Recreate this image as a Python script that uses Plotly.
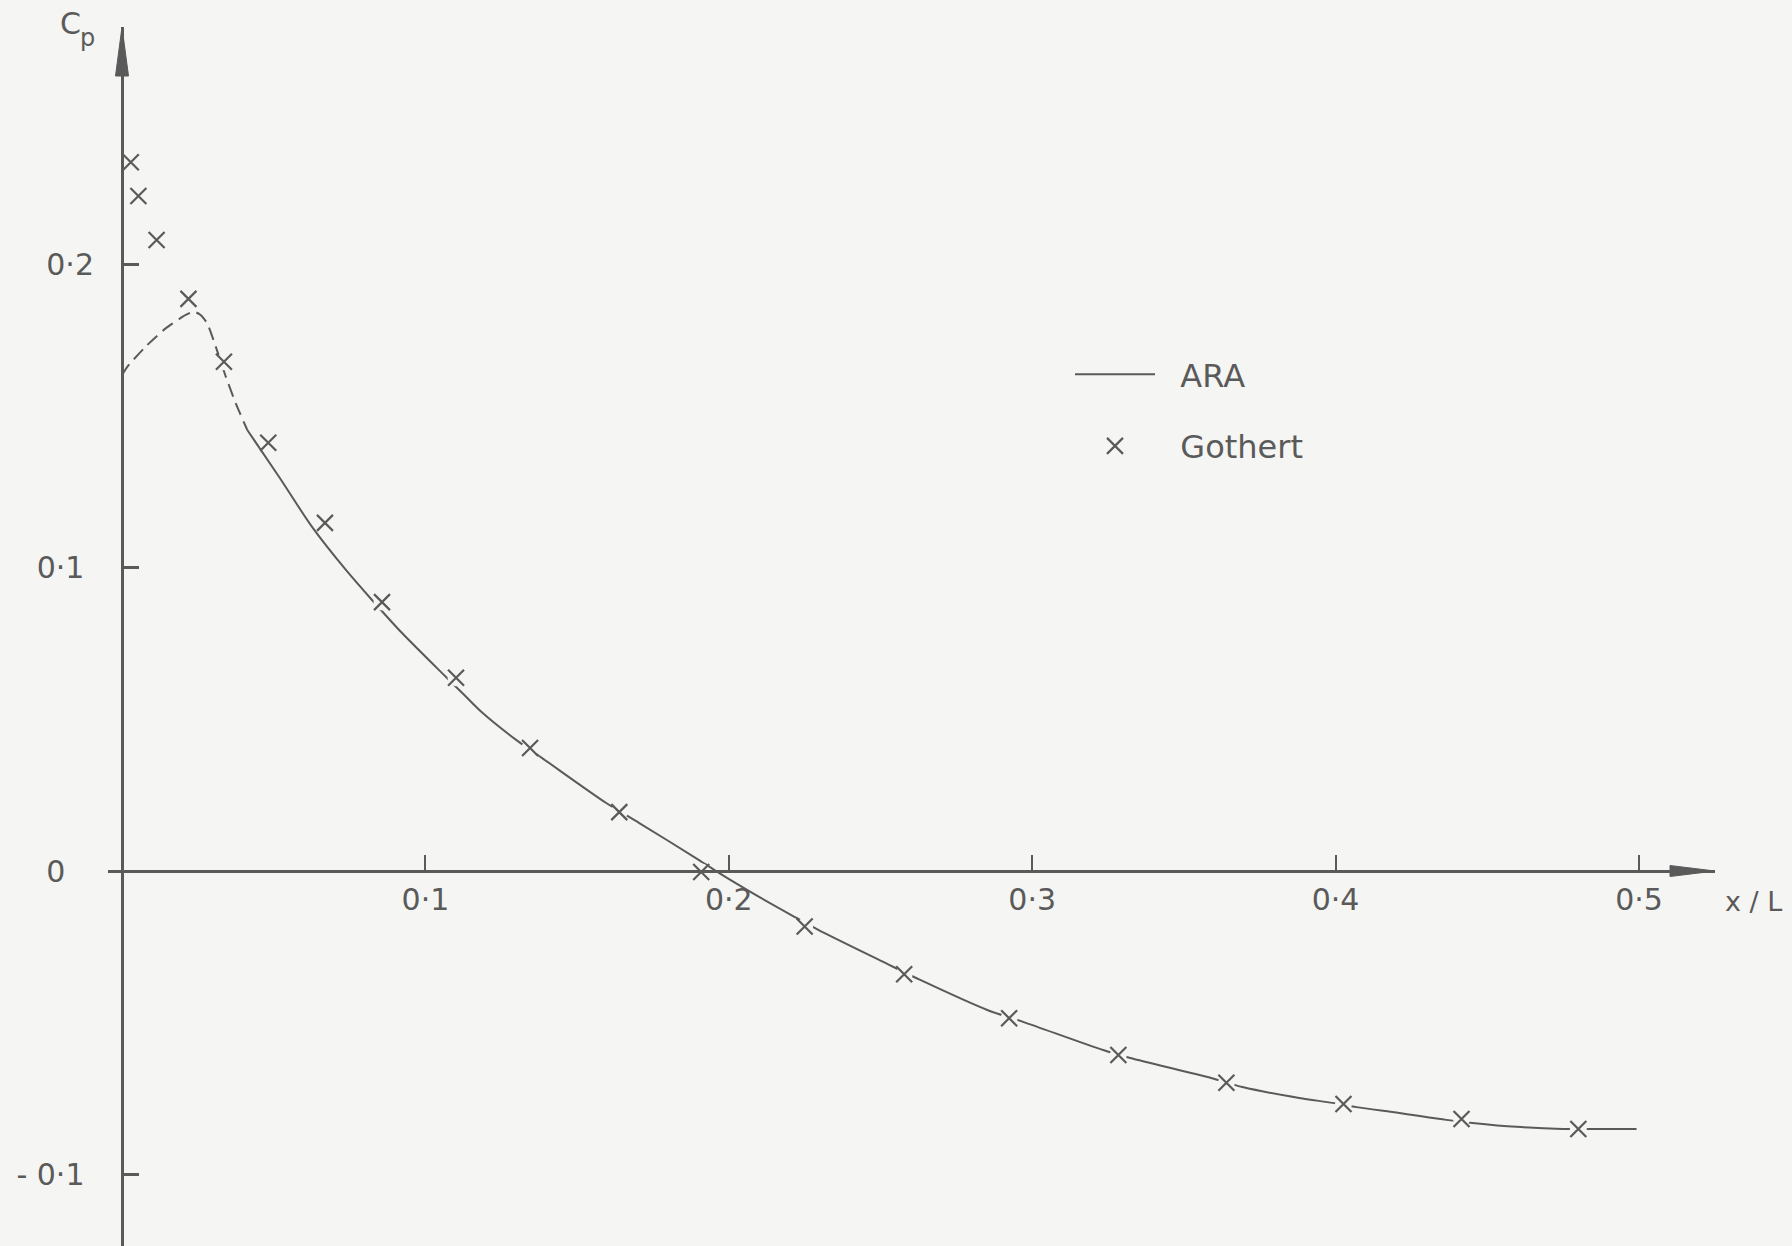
import plotly.graph_objects as go

# ---------------- data ----------------
# ARA computation: dashed part near the nose
ara_dash_x = [0.0, 0.0018, 0.0078, 0.0144, 0.0210, 0.0237, 0.0259, 0.0281, 0.0309, 0.0342, 0.0375, 0.0413]
ara_dash_y = [0.1634, 0.1662, 0.1728, 0.1788, 0.1832, 0.1843, 0.1832, 0.1804, 0.1728, 0.1629, 0.1541, 0.1453]

# ARA computation: solid part
ara_x = [0.0413, 0.0518, 0.0627, 0.0738, 0.0824, 0.0923, 0.1068, 0.1130, 0.1187, 0.1299, 0.1385,
         0.1596, 0.1705, 0.1902, 0.1970, 0.2087, 0.2206, 0.2295, 0.2516, 0.2631, 0.2852,
         0.2970, 0.3234, 0.3323, 0.3590, 0.3693, 0.3880, 0.3990, 0.4069, 0.4210, 0.4365,
         0.4451, 0.4596, 0.4748, 0.4837, 0.4992]
ara_y = [0.1453, 0.1298, 0.1133, 0.0992, 0.0893, 0.0784, 0.0639, 0.0578, 0.0522, 0.0432, 0.0372,
         0.0224, 0.0158, 0.0036, -0.0008, -0.0078, -0.0145, -0.0194, -0.0303, -0.0359, -0.0458,
         -0.0497, -0.0590, -0.0616, -0.0682, -0.0712, -0.0748, -0.0764, -0.0778, -0.0797, -0.0820,
         -0.0830, -0.0843, -0.0850, -0.0850, -0.0850]

# Gothert data points
gothert_x = [0.0029, 0.0054, 0.0114, 0.0219, 0.0336, 0.0482, 0.0669, 0.0857, 0.1101, 0.1345,
             0.1639, 0.1909, 0.2250, 0.2578, 0.2924, 0.3284, 0.3640, 0.4026, 0.4415, 0.4800]
gothert_y = [0.2335, 0.2224, 0.2079, 0.1885, 0.1678, 0.1411, 0.1147, 0.0886, 0.0637, 0.0405,
             0.0194, -0.0003, -0.0183, -0.0340, -0.0485, -0.0606, -0.0698, -0.0768, -0.0817, -0.0850]

x_tick_vals = [0.1, 0.2, 0.3, 0.4, 0.5]
x_tick_text = ["0·1", "0·2", "0·3", "0·4", "0·5"]
y_tick_vals = [-0.1, 0.0, 0.1, 0.2]
y_tick_text = ["- 0·1\u00a0", "0\u00a0\u00a0\u00a0", "0·1\u00a0", "0·2"]

# ---------------- style ----------------
W, H = 1792, 1246
INK = "#5a5a5a"
BG = "#f5f5f3"
FONT = "DejaVu Sans"

X0_PX, XSCALE = 122.0, 3034.0     # pixel of x=0, px per unit
Y0_PX, YSCALE = 871.0, 3035.0     # pixel of y=0, px per unit
XAX_START, XAX_END = 108.0, 1715.0
YAX_TOP = 27.0


def px(xp):
    return xp / W


def py(yp):
    return 1 - yp / H


fig = go.Figure()

fig.add_trace(go.Scatter(
    x=ara_dash_x, y=ara_dash_y, mode="lines", showlegend=False, hoverinfo="skip",
    line=dict(color=INK, width=2, dash="13px,7px", shape="spline", smoothing=0.6)))

fig.add_trace(go.Scatter(
    x=ara_x, y=ara_y, mode="lines", name="\u00a0\u00a0ARA", legendgroup="a",
    line=dict(color=INK, width=2, shape="spline", smoothing=0.8)))

# small halo so the curve appears interrupted at each cross, as in the drawing
fig.add_trace(go.Scatter(
    x=gothert_x, y=gothert_y, mode="markers", showlegend=False, hoverinfo="skip",
    marker=dict(symbol="circle", size=17, color=BG, line=dict(width=0))))

fig.add_trace(go.Scatter(
    x=gothert_x, y=gothert_y, mode="markers", name="\u00a0\u00a0Gothert", legendgroup="g",
    marker=dict(symbol="x-thin", size=16, color=INK, line=dict(color=INK, width=2.2))))

x_range = [(XAX_START - X0_PX) / XSCALE, (XAX_END - X0_PX) / XSCALE]
y_range = [(Y0_PX - H) / YSCALE, (Y0_PX - YAX_TOP) / YSCALE]

fig.update_layout(
    width=W, height=H,
    margin=dict(l=0, r=0, t=0, b=0, pad=0),
    paper_bgcolor=BG, plot_bgcolor=BG,
    font=dict(family=FONT, color=INK, size=30),
    xaxis=dict(
        domain=[px(XAX_START), px(XAX_END)], range=x_range,
        anchor="free", position=py(Y0_PX),
        showline=True, linecolor=INK, linewidth=3,
        showgrid=False, zeroline=False,
        ticks="inside", ticklen=15, tickwidth=2, tickcolor=INK,
        tickvals=x_tick_vals, ticktext=x_tick_text,
        tickfont=dict(family=FONT, size=30, color=INK),
        ticklabelstandoff=1,
    ),
    yaxis=dict(
        domain=[0, py(YAX_TOP)], range=y_range,
        anchor="free", position=px(X0_PX),
        showline=True, linecolor=INK, linewidth=3,
        showgrid=False, zeroline=False,
        ticks="inside", ticklen=15, tickwidth=2.5, tickcolor=INK,
        tickvals=y_tick_vals, ticktext=y_tick_text,
        tickfont=dict(family=FONT, size=30, color=INK),
        ticklabelstandoff=21,
    ),
    legend=dict(
        x=px(1070), y=py(347), xanchor="left", yanchor="top",
        bgcolor="rgba(0,0,0,0)", borderwidth=0,
        font=dict(family=FONT, size=32, color=INK),
        itemwidth=80, tracegroupgap=27,
    ),
    shapes=[
        # arrowhead of the y axis
        dict(type="path", xref="paper", yref="paper",
             path=f"M {px(X0_PX - 6.5)},{py(76)} L {px(X0_PX)},{py(YAX_TOP)} L {px(X0_PX + 6.5)},{py(76)} Z",
             fillcolor=INK, line=dict(color=INK, width=1)),
        # arrowhead of the x axis
        dict(type="path", xref="paper", yref="paper",
             path=f"M {px(1670)},{py(Y0_PX - 5.5)} L {px(XAX_END)},{py(Y0_PX)} L {px(1670)},{py(Y0_PX + 5.5)} Z",
             fillcolor=INK, line=dict(color=INK, width=1)),
    ],
    annotations=[
        dict(text="C", xref="paper", yref="paper", x=px(58), y=py(24),
             xanchor="left", yanchor="middle", showarrow=False,
             font=dict(family=FONT, size=30, color=INK)),
        dict(text="p", xref="paper", yref="paper", x=px(78), y=py(38),
             xanchor="left", yanchor="middle", showarrow=False,
             font=dict(family=FONT, size=24, color=INK)),
        dict(text="x / L", xref="paper", yref="paper", x=px(1753), y=py(901),
             xanchor="center", yanchor="middle", showarrow=False,
             font=dict(family=FONT, size=27, color=INK)),
    ],
)

fig.write_html(
    "out.html",
    config={"displayModeBar": False},
    post_script="document.body.style.margin='0';document.body.style.background='#f5f5f3';",
)
